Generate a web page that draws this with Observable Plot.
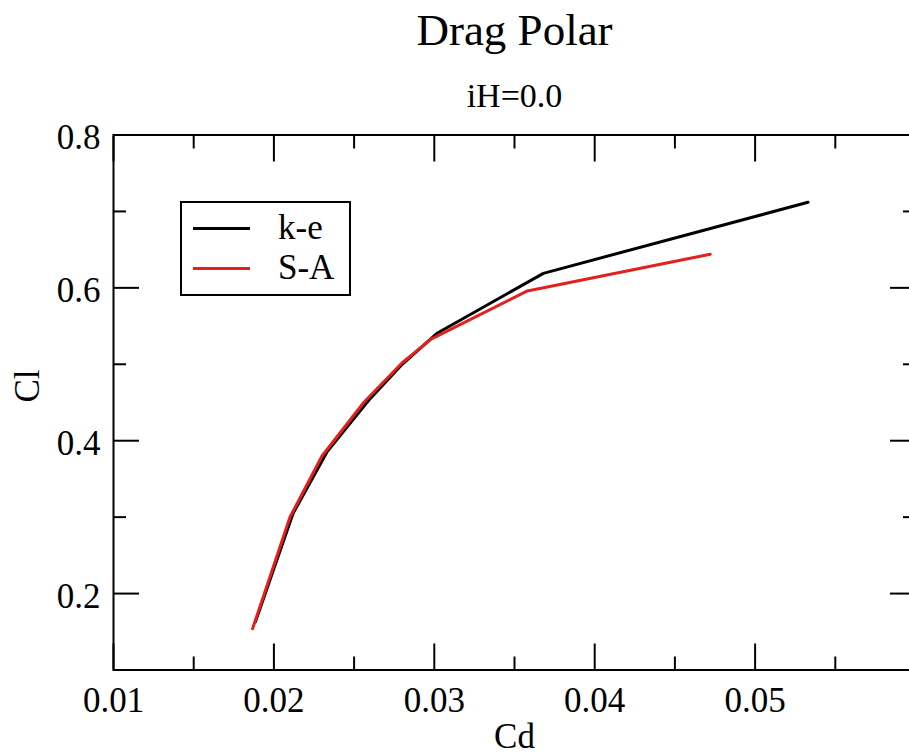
<!DOCTYPE html>
<html>
<head>
<meta charset="utf-8">
<script src="https://cdn.jsdelivr.net/npm/d3@7"></script>
<script src="https://cdn.jsdelivr.net/npm/@observablehq/plot@0.6"></script>
<style>
  html, body { margin: 0; padding: 0; background: #fff; overflow: hidden; }
  #wrap { position: relative; width: 909px; height: 755px; }
  #legend {
    position: absolute; left: 180px; top: 201px; width: 167px; height: 91px;
    border: 2px solid #000; background: #fff;
    font-family: "Liberation Serif", "DejaVu Serif", serif; font-size: 35px; color: #000;
  }
  .row { position: absolute; left: 0; height: 40px; width: 100%; }
  .sw { position: absolute; left: 11px; width: 57px; height: 3px; top: 19px; }
  .lb { position: absolute; left: 96px; top: 0; line-height: 40px; }
</style>
</head>
<body>
<div id="wrap"></div>
<script>
// Series: k-e turbulence model
const keCd = [0.01885, 0.0212, 0.0233, 0.0260, 0.0280, 0.0302, 0.0368, 0.0533];
const keCl = [0.163, 0.305, 0.385, 0.455, 0.500, 0.541, 0.619, 0.712];
// Series: S-A turbulence model
const saCd = [0.01867, 0.0210, 0.0230, 0.0256, 0.0280, 0.0298, 0.0358, 0.0472];
const saCl = [0.154, 0.300, 0.380, 0.450, 0.502, 0.533, 0.596, 0.644];

const seriesNames = ["k-e", "S-A"];
const seriesColors = ["#000000", "#e3201b"];

const xMajor = [0.01, 0.02, 0.03, 0.04, 0.05, 0.06];
const xMinor = [0.015, 0.025, 0.035, 0.045, 0.055];
const xLabels = [0.01, 0.02, 0.03, 0.04, 0.05];
const yMajor = [0.2, 0.4, 0.6, 0.8];
const yMinor = [0.3, 0.5, 0.7];
const yLabels = [0.2, 0.4, 0.6, 0.8];

const title = "Drag Polar";
const subtitle = "iH=0.0";
const xTitle = "Cd";
const yTitle = "Cl";

const ke = keCd.map((d, i) => ({Cd: d, Cl: keCl[i]}));
const sa = saCd.map((d, i) => ({Cd: d, Cl: saCl[i]}));

const tickOpts = {fill: "none", stroke: "#000", strokeWidth: 2, label: null, tickFormat: () => ""};

const chart = Plot.plot({
  width: 909,
  height: 755,
  marginLeft: 113,
  marginRight: -6,
  marginTop: 134.5,
  marginBottom: 85.5,
  style: {fontFamily: "'Liberation Serif', 'DejaVu Serif', serif", fontSize: "35px", color: "#000", background: "#fff"},
  x: {domain: [0.01, 0.06]},
  y: {domain: [0.1, 0.8]},
  marks: [
    Plot.frame({stroke: "#000", strokeWidth: 2}),
    // inward ticks on all four sides
    Plot.axisX({...tickOpts, anchor: "bottom", ticks: xMajor, tickSize: -26}),
    Plot.axisX({...tickOpts, anchor: "bottom", ticks: xMinor, tickSize: -13}),
    Plot.axisX({...tickOpts, anchor: "top", ticks: xMajor, tickSize: -26}),
    Plot.axisX({...tickOpts, anchor: "top", ticks: xMinor, tickSize: -13}),
    Plot.axisY({...tickOpts, anchor: "left", ticks: yMajor, tickSize: -26}),
    Plot.axisY({...tickOpts, anchor: "left", ticks: yMinor, tickSize: -13}),
    Plot.axisY({...tickOpts, anchor: "right", ticks: yMajor, tickSize: -26}),
    Plot.axisY({...tickOpts, anchor: "right", ticks: yMinor, tickSize: -13}),
    // tick labels
    Plot.axisX({anchor: "bottom", ticks: xLabels, tickSize: 0, tickPadding: 17.5, label: null,
      tickFormat: d => d.toFixed(2), fill: "#000", fontSize: 35}),
    Plot.axisY({anchor: "left", ticks: yLabels, tickSize: 0, tickPadding: 13, label: null,
      tickFormat: d => d.toFixed(1), fill: "#000", fontSize: 35, dy: 3}),
    // titles
    Plot.text([title], {frameAnchor: "top", dy: -104, fontSize: 45, lineAnchor: "middle", fill: "#000"}),
    Plot.text([subtitle], {frameAnchor: "top", dy: -39, fontSize: 34, lineAnchor: "middle", fill: "#000"}),
    Plot.text([xTitle], {frameAnchor: "bottom", dy: 67, fontSize: 35, lineAnchor: "middle", fill: "#000"}),
    Plot.text([yTitle], {frameAnchor: "left", dx: -86, rotate: -90, fontSize: 35, lineAnchor: "middle", fill: "#000"}),
    // data
    Plot.line(ke, {x: "Cd", y: "Cl", stroke: seriesColors[0], strokeWidth: 3}),
    Plot.line(sa, {x: "Cd", y: "Cl", stroke: seriesColors[1], strokeWidth: 3})
  ]
});

const wrap = document.getElementById("wrap");
wrap.appendChild(chart);

const legend = document.createElement("div");
legend.id = "legend";
seriesNames.forEach((name, i) => {
  const row = document.createElement("div");
  row.className = "row";
  row.style.top = (5 + i * 40) + "px";
  const sw = document.createElement("div");
  sw.className = "sw";
  sw.style.background = seriesColors[i];
  const lb = document.createElement("div");
  lb.className = "lb";
  lb.textContent = name;
  row.appendChild(sw);
  row.appendChild(lb);
  legend.appendChild(row);
});
wrap.appendChild(legend);
</script>
</body>
</html>
